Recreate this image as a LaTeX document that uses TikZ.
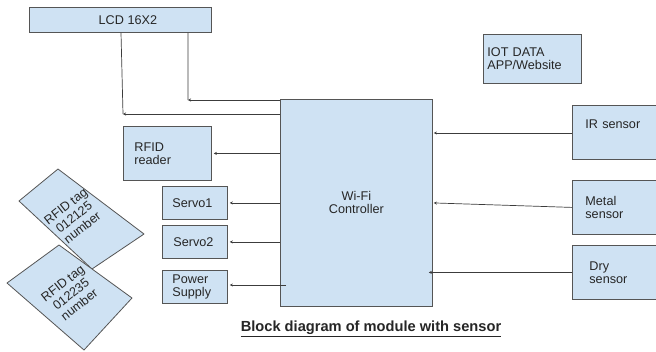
\documentclass[tikz,border=0pt]{standalone}
\usepackage{fontspec}
\setmainfont{Liberation Sans}
\usepackage{tikz}
\usetikzlibrary{positioning,calc,arrows.meta}
\definecolor{boxblue}{HTML}{CFE2F3}
\definecolor{edgegray}{HTML}{555555}
\definecolor{wiregray}{HTML}{3C3C3C}

\tikzset{
    block/.style={draw=edgegray, fill=boxblue, line width=0.8bp, anchor=north west, inner sep=0pt,
        font=\fontsize{12.7}{13}\selectfont, text=black!85},
    leftblock/.style={block, align=left},
    wire/.style={draw=wiregray, line width=0.7bp, -{Stealth[length=3bp,width=3bp]}},
    bus/.style={draw=wiregray, line width=0.7bp},
    tag/.style={draw=edgegray, fill=boxblue, line width=0.8bp, line join=round},
    tagtext/.style={align=center, rotate=38, font=\fontsize{12.7}{13.5}\selectfont, text=black!85}
}

\begin{document}
\begin{tikzpicture}[x=1bp, y=-1bp]
    \useasboundingbox (0,0) rectangle (656,351);
    \fill[white] (0,0) rectangle (656,351);
    % MODULE BLOCKS
    \node[block, minimum width=182bp, minimum height=25bp] (lcd) at (29,7) {\hspace*{15bp}LCD 16X2};
    \node[leftblock, minimum width=98bp, minimum height=49bp, text width=90bp, inner xsep=4bp] (iot) at (483,34) {IOT DATA\\APP/Website};
    \node[block, minimum width=152bp, minimum height=207bp, align=center] (ctrl) at (280,99) {Wi-Fi\\Controller};
    \node[leftblock, minimum width=88bp, minimum height=54bp, text width=62bp, inner xsep=13bp, text depth=17bp] (ir) at (572,105) {IR sensor};
    \node[leftblock, minimum width=88bp, minimum height=54bp, text width=62bp, inner xsep=13bp] (metal) at (572,180) {Metal\\sensor};
    \node[leftblock, minimum width=88bp, minimum height=54bp, text width=54bp, inner xsep=17bp] (dry) at (572,245) {Dry\\sensor};
    \node[leftblock, minimum width=88bp, minimum height=54bp, text width=66bp, inner xsep=11bp] (rfid) at (123,126) {RFID\\reader};
    \node[leftblock, minimum width=65bp, minimum height=33bp, text width=45bp, inner xsep=10bp] (servoA) at (162,186) {Servo1};
    \node[leftblock, minimum width=65bp, minimum height=33bp, text width=43bp, inner xsep=11bp] (servoB) at (162,225) {Servo2};
    \node[leftblock, minimum width=65bp, minimum height=33bp, text width=45bp, inner xsep=10bp] (power) at (162,270) {Power\\Supply};
    % RFID TAGS
    \filldraw[tag] (19,201) -- (58,169) -- (144,234) -- (92,269) -- cycle;
    \node[tagtext] (tagA) at (74,217) {RFID tag\\012125\\number};
    \filldraw[tag] (7,283) -- (59,245) -- (132,298) -- (84,350) -- cycle;
    \node[tagtext] (tagB) at (71,294) {RFID tag\\012235\\number};
    % LCD WIRES
    \coordinate (tapA) at (123,114);
    \coordinate (tapB) at (188,100);
    \draw[wire] (ctrl.west |- tapA) -- (tapA);
    \draw[bus] ([xshift=92bp]lcd.south west) -- (tapA);
    \draw[wire] (ctrl.west |- tapB) -- (tapB);
    \draw[bus] ([xshift=159bp]lcd.south west) -- (tapB);
    % OUTPUTS
    \draw[wire, shorten >=2bp] (ctrl.west |- rfid.east) -- (rfid.east);
    \draw[wire, shorten >=2bp] (ctrl.west |- servoA.east) -- (servoA.east);
    \draw[wire, shorten >=2bp] (ctrl.west |- servoB.east) -- (servoB.east);
    \draw[wire, shorten >=2bp] ([xshift=6bp]ctrl.west |- 0,285) -- (power.east |- 0,285);
    % SENSOR INPUTS
    \draw[wire, shorten >=1bp] (ir.west |- 0,133) -- (ctrl.east |- 0,133);
    \draw[wire, shorten >=1bp] (metal.west) -- (ctrl.east);
    \draw[wire] (dry.west) -- ([xshift=-4bp]ctrl.east |- dry.west);
    % CAPTION
    \node[font=\fontsize{14.7}{16}\selectfont\bfseries, text=black!85] (caption) at (371,329) {\underline{Block diagram of module with sensor}};
\end{tikzpicture}
\end{document}
